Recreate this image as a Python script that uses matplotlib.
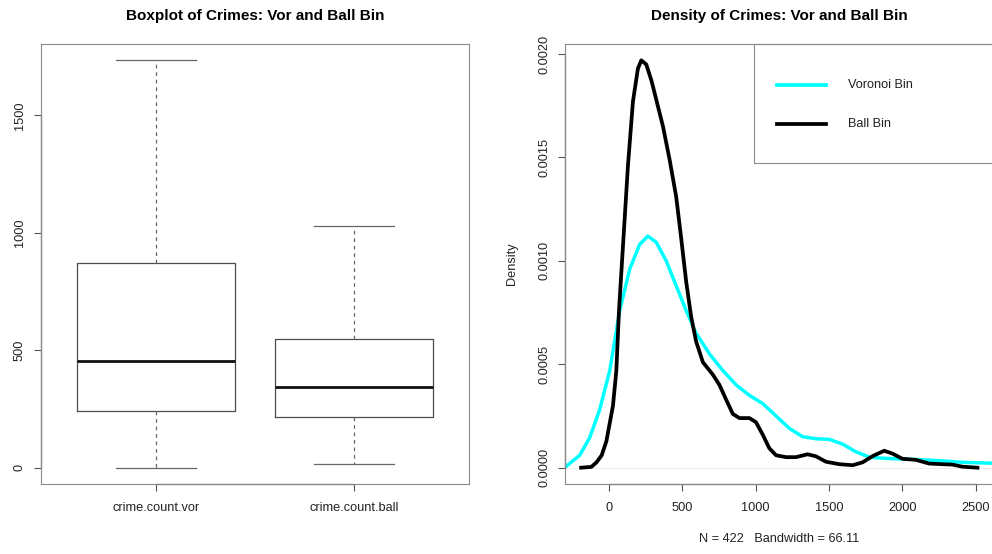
import matplotlib
matplotlib.use("Agg")
import matplotlib.pyplot as plt
from matplotlib.patches import Rectangle
from matplotlib.lines import Line2D

plt.rcParams["font.family"] = ["Liberation Sans", "DejaVu Sans"]

# ---- boxplot summary statistics (crime counts per bin) ----
box_labels = ["crime.count.vor", "crime.count.ball"]
whisker_lo = [0, 14]
quart_1 = [241, 217]
medians = [454, 345]
quart_3 = [873, 547]
whisker_hi = [1734, 1028]

# ---- kernel density estimates ----
ball_x = [-190, -120, -86, -50, -18, 27, 50, 68, 95, 129, 163, 197, 220, 254,
          290, 322, 368, 413, 458, 492, 526, 560, 594, 640, 708, 753, 798,
          844, 889, 957, 1002, 1048, 1093, 1139, 1207, 1275, 1354, 1411, 1479,
          1570, 1661, 1729, 1797, 1876, 1933, 2001, 2092, 2183, 2273, 2341,
          2409, 2512]
ball_y = [0.0, 0.000004, 0.0000256, 0.00006, 0.000128, 0.00030, 0.00047,
          0.00076, 0.00107, 0.00146, 0.00177, 0.00193, 0.00197, 0.00195,
          0.00187, 0.00178, 0.00165, 0.00149, 0.00131, 0.00111, 0.00090,
          0.00073, 0.00061, 0.00051, 0.00045, 0.00040, 0.00033, 0.00026,
          0.00024, 0.00024, 0.00022, 0.00016, 0.000094, 0.00006, 0.000051,
          0.000051, 0.000065, 0.000055, 0.000029, 0.000017, 0.000012,
          0.000026, 0.000056, 0.000082, 0.000068, 0.000043, 0.000038,
          0.00002, 0.000017, 0.000015, 0.000005, 0.0]

vor_x = [-330, -295, -200, -132, -64, 5, 73, 141, 209, 265, 322, 390, 458,
         526, 594, 685, 776, 867, 957, 1048, 1139, 1230, 1320, 1411, 1502,
         1593, 1683, 1774, 1865, 1956, 2092, 2250, 2409, 2609, 2660]
vor_y = [0.0, 0.000005, 0.00006, 0.000145, 0.00028, 0.00047, 0.00076,
         0.00096, 0.00108, 0.00112, 0.00109, 0.00100, 0.00088, 0.00076,
         0.00065, 0.00055, 0.00047, 0.00040, 0.00035, 0.00031, 0.00025,
         0.00019, 0.00015, 0.00014, 0.000137, 0.000114, 0.000077, 0.000051,
         0.000046, 0.000043, 0.00004, 0.000034, 0.000026, 0.000022, 0.00002]

n_obs = 422
bandwidth = 66.11

FRAME = "#8a8a8a"
AXLINE = "#555555"
TICK_FS = 9.2

fig = plt.figure(figsize=(9.92, 5.54), dpi=100)
ax1 = fig.add_axes([41 / 992, 70 / 554, 428 / 992, 440 / 554])
ax2 = fig.add_axes([565.3 / 992, 70 / 554, 428 / 992, 440 / 554])

for ax in (ax1, ax2):
    for sp in ax.spines.values():
        sp.set_color(FRAME)
        sp.set_linewidth(0.8)
    ax.tick_params(length=5, width=0.8, color=AXLINE, labelsize=TICK_FS,
                   pad=6, labelcolor="#222222")
    ax.tick_params(axis="x", pad=8)

# ---------------- left: boxplot ----------------
stats = []
for i, lab in enumerate(box_labels):
    stats.append(dict(label=lab, whislo=whisker_lo[i], q1=quart_1[i],
                      med=medians[i], q3=quart_3[i], whishi=whisker_hi[i]))

ax1.bxp(stats, positions=[1, 2], widths=0.8, capwidths=0.4, showfliers=False,
        boxprops=dict(color="#4d4d4d", linewidth=0.9),
        medianprops=dict(color="#111111", linewidth=2.0, solid_capstyle="butt"),
        whiskerprops=dict(color="#666666", linewidth=0.9, linestyle=(0, (3, 3))),
        capprops=dict(color="#666666", linewidth=0.9))

lo = min(whisker_lo)
hi = max(whisker_hi)
pad = 0.04 * (hi - lo)
ax1.set_ylim(lo - pad, hi + pad)
ax1.set_xlim(0.42, 2.58)
ax1.set_yticks([0, 500, 1000, 1500])
ax1.set_xticks([1, 2])
ax1.set_xticklabels(box_labels)
ax1.tick_params(axis="y", labelrotation=90)
for lbl in ax1.get_yticklabels():
    lbl.set_va("center")
ax1.plot([0, 0], [0, 1500], transform=ax1.get_yaxis_transform(),
         color=AXLINE, lw=0.9, clip_on=False)
ax1.plot([1, 2], [0, 0], transform=ax1.get_xaxis_transform(),
         color=AXLINE, lw=0.9, clip_on=False)
ax1.set_title("Boxplot of Crimes: Vor and Ball Bin", fontsize=11,
              fontweight="bold", pad=17.0)

# ---------------- right: densities ----------------
ax2.axhline(0, color="#ececec", lw=0.7, zorder=1)
ax2.plot(ball_x, ball_y, color="black", lw=2.7, solid_joinstyle="round",
         zorder=3)
ax2.plot(vor_x, vor_y, color="#00FFFF", lw=2.5, solid_joinstyle="round",
         zorder=2)

xr = max(ball_x) - min(ball_x)
ax2.set_xlim(min(ball_x) - 0.04 * xr, max(ball_x) + 0.04 * xr)
ypk = max(ball_y)
ax2.set_ylim(-0.04 * ypk, ypk * 1.04)
ax2.set_xticks([0, 500, 1000, 1500, 2000, 2500])
yt = [0, 0.0005, 0.0010, 0.0015, 0.0020]
ax2.set_yticks(yt)
ax2.set_yticklabels([f"{v:.4f}" for v in yt])
ax2.tick_params(axis="y", labelrotation=90)
for lbl in ax2.get_yticklabels():
    lbl.set_va("center")
ax2.plot([0, 0], [0, 0.002], transform=ax2.get_yaxis_transform(),
         color=AXLINE, lw=0.9, clip_on=False)
ax2.plot([0, 2500], [0, 0], transform=ax2.get_xaxis_transform(),
         color=AXLINE, lw=0.9, clip_on=False)

ax2.set_title("Density of Crimes: Vor and Ball Bin", fontsize=11,
              fontweight="bold", pad=17.0)
ax2.set_ylabel("Density", fontsize=TICK_FS, color="#222222")
ax2.yaxis.label.set_va("center")
ax2.yaxis.set_label_coords(-53.6 / 428, 0.5)
ax2.set_xlabel(f"N = {n_obs}   Bandwidth = {bandwidth:.2f}", fontsize=TICK_FS,
               color="#222222")
ax2.xaxis.label.set_va("center")
ax2.xaxis.set_label_coords(0.5, -54.5 / 440)

# legend box in the top-right corner
ax2.add_patch(Rectangle((0.4416, 0.7289), 0.6, 0.2711, transform=ax2.transAxes,
                        fill=False, edgecolor=FRAME, lw=0.8, clip_on=False,
                        zorder=4))
for fy, col, name in [(0.9077, "#00FFFF", "Voronoi Bin"),
                      (0.818, "black", "Ball Bin")]:
    ax2.add_line(Line2D([0.4946, 0.6091], [fy, fy], transform=ax2.transAxes,
                        color=col, lw=2.7, zorder=5))
    ax2.text(0.6612, fy, name, transform=ax2.transAxes, fontsize=TICK_FS,
             va="center", ha="left", color="#222222", zorder=5)

fig.savefig("out.png", dpi=100)
